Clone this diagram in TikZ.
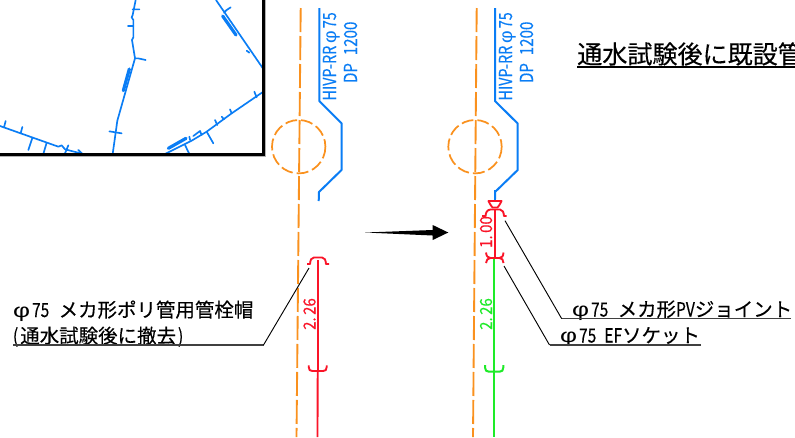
\documentclass[tikz,border=0pt]{standalone}
\usepackage{fontspec}
\usepackage{graphicx}
\setmainfont[FakeBold=0.25]{Noto Sans CJK JP}
\newfontfamily\phifont{Liberation Sans}
\definecolor{pipeblue}{RGB}{10,125,245}
\definecolor{centerorange}{RGB}{250,145,30}
\definecolor{pipered}{RGB}{250,20,40}
\definecolor{pipegreen}{RGB}{30,235,40}
\newcommand{\nar}[1]{\scalebox{0.8}[1]{#1}}
\newcommand{\phig}{\scalebox{1.35}[1]{\phifont φ}}
\newcommand{\lblfont}{\fontsize{14.6pt}{14.6pt}\selectfont}
\tikzset{
  x=0.75pt,y=-0.75pt,
  maplineS/.style={draw=pipeblue,line width=1.25pt,line cap=round,line join=round},
  mapbar/.style={draw=pipeblue,line width=2.4pt,line cap=round},
  bluepipe/.style={draw=pipeblue,line width=1.5pt,line join=round},
  centerl/.style={draw=centerorange,line width=1.4pt,dash pattern=on 18pt off 3pt},
  manhole/.style={draw=centerorange,line width=1.3pt,dash pattern=on 9pt off 3pt},
  redpipe/.style={draw=pipered,line width=1.4pt,line join=round},
  greenpipe/.style={draw=pipegreen,line width=1.5pt,line join=round},
  leader/.style={draw=black,line width=0.7pt},
  uline/.style={draw=black!75,line width=1.1pt},
  lbl/.style={anchor=base west,inner sep=0pt,outer sep=0pt,text=black,font=\lblfont},
  bluetxt/.style={anchor=base west,rotate=90,inner sep=0pt,outer sep=0pt,text=pipeblue,font=\fontsize{13.5pt}{13.5pt}\selectfont},
  dimtxt/.style={anchor=base,rotate=90,inner sep=0pt,outer sep=0pt,font=\fontsize{12.5pt}{12.5pt}\selectfont},
}
\begin{document}
\begin{tikzpicture}
\useasboundingbox (0,0) rectangle (795,437);
\clip (0,0) rectangle (795,437);
\fill[white] (0,0) rectangle (795,437);

% inset map (zoom-crop coordinates, scaled 1/3)
\begin{scope}[x=0.25pt,y=-0.25pt]
\draw[maplineS] (407,0) -- (398,45) -- (395,52) -- (400,60) -- (400,112) -- (396,120) -- (405,175) -- (352,362) -- (338,462);
\draw[maplineS] (398,28) -- (418,28) (384,78) -- (400,78) (405,175) -- (414,175) -- (437,180) (328,394) -- (365,400);
\draw[mapbar] (388,207) -- (370,272);
\draw[maplineS] (648,0) -- (790,207) (672,38) -- (680,30) -- (692,22) (740,152) -- (748,158);
\draw[mapbar] (668,48) -- (708,105);
\draw[maplineS] (790,275) -- (695,340) -- (620,395) -- (575,422) -- (495,462);
\draw[maplineS] (763,275) -- (770,292) (690,328) -- (695,340) (665,350) -- (672,358) (645,360) -- (652,375) (620,395) -- (640,430) (580,408) -- (600,393) -- (605,405) (568,410) -- (570,420) (555,435) -- (568,462);
\draw[mapbar] (505,445) -- (558,415);
\draw[maplineS] (0,378) -- (175,440) -- (185,436) -- (195,448) -- (250,462);
\draw[maplineS] (17,363) -- (12,382) (67,381) -- (62,400) (85,450) -- (97,414) (130,462) -- (140,428) (205,436) -- (195,460) (235,450) -- (245,460);
\end{scope}
\draw[black!30,line width=0.8pt] (265.5,0) -- (265.5,156.5) -- (0,156.5);
\draw[black,line width=2.1pt] (263.5,-3) -- (263.5,154.5) -- (-3,154.5);

% centre lines and manholes
\coordinate (cla) at (300.7,8);
\coordinate (clb) at (296.5,437);
\coordinate (cra) at (476.7,8);
\coordinate (crb) at (473,437);
\draw[centerl] (cla) -- (clb);
\draw[centerl] (cra) -- (crb);
\draw[manhole] (298.7,146.7) circle [radius=26.7];
\draw[manhole] (475,146.7) circle [radius=26.7];

% blue pipes
\draw[bluepipe] (319.3,8) -- (319.3,101) -- (341.7,123.5) -- (341.5,170) -- (319,192) -- (318.7,201);
\draw[bluepipe] (495,8) -- (495,101) -- (517.7,123.5) -- (517.7,170) -- (495,192) -- (495,199);
\node[bluetxt] (ta1) at (336,100.5) {\scalebox{0.8}[1]{HIVP-RR\,\phig\,75}};
\node[bluetxt] (ta2) at (357,83) {\scalebox{0.84}[1]{DP\hspace{7pt}1200}};
\node[bluetxt] (tb1) at (512,100.5) {\scalebox{0.8}[1]{HIVP-RR\,\phig\,75}};
\node[bluetxt] (tb2) at (533,83) {\scalebox{0.84}[1]{DP\hspace{7pt}1200}};

% left fitting
\draw[redpipe] (318,260) -- (318,371) (317.7,371) -- (317.5,437);
\draw[redpipe] (307,264) -- (310,264) .. controls (310.5,260) and (311,257.5) .. (314,257.5) -- (322,257.5) .. controls (325,257.5) and (325.5,260) .. (326,264) -- (329,264);
\draw[redpipe] (308.7,365.3) -- (308.7,367) .. controls (308.7,370) and (310,371) .. (312.5,371) -- (323,371) .. controls (325.5,371) and (326.7,370) .. (326.7,367) -- (326.7,365.3);
\node[dimtxt,text=pipered] (dl) at (315.5,314) {\scalebox{0.9}[1]{2.\,26}};

% right fittings
\draw[pipeblue,line width=1.3pt] (495,190) -- (495,200);
\draw[redpipe] (495,209) -- (495,258);
\draw[redpipe] (488.5,201) -- (501.5,201) .. controls (500.5,204) and (498.5,206) .. (497.5,207.5) -- (492.5,207.5) .. controls (491.5,206) and (489.5,204) .. (488.5,201) -- cycle;
\draw[redpipe] (482,216) -- (485.5,216) .. controls (486,212) and (487,210) .. (490.5,209.5) -- (500,209.5) .. controls (503,210) and (503.5,212) .. (504,216) -- (506.5,216);
\draw[redpipe] (486,252.5) .. controls (486.5,256) and (487.5,258) .. (490.5,258) -- (499.5,258) .. controls (502.5,258) and (503,256) .. (503.5,252.5);
\draw[redpipe] (486,263) .. controls (486.5,260) and (487.5,258) .. (490.5,258) (499.5,258) .. controls (502.5,258) and (503,260) .. (503.5,263);
\draw[greenpipe] (494.3,258.5) -- (494.3,437);
\draw[greenpipe] (485,365) -- (485,367.5) .. controls (485,370.5) and (486.5,371.7) .. (489,371.7) -- (499.5,371.7) .. controls (502,371.7) and (503.3,370.5) .. (503.3,367.5) -- (503.3,365);
\node[dimtxt,text=pipegreen] (dg) at (492,314) {\scalebox{0.9}[1]{2.\,26}};
\node[dimtxt,text=pipered] (dr) at (492,232) {\scalebox{0.9}[1]{1.\,00}};

% arrow
\fill[black] (365,232.5) -- (432.7,230) -- (432.7,225) -- (448.3,232.5) -- (432.7,240) -- (432.7,235.5) -- cycle;

% labels
\node[lbl] (t1) at (13,317) {\phig\hspace{1.5pt}\nar{75}\hspace{7pt}メカ形ポリ管用管栓帽};
\node[lbl] (t2) at (13,343) {\nar{(}\hspace{1.5pt}通水試験後に撤去\hspace{1.5pt}\nar{)}};
\node[lbl] (t3) at (572,316.5) {\phig\hspace{1.5pt}\nar{75}\hspace{7pt}メカ形\nar{PV}ジョイント};
\node[lbl] (t4) at (560,342.5) {\phig\hspace{1.5pt}\nar{75}\hspace{6pt}\nar{EF}ソケット};
\node[anchor=base west,inner sep=0pt,font=\fontsize{18.8pt}{19pt}\selectfont] (title) at (577,63.5) {通水試験後に既設管};

% leaders
\coordinate (l1a) at (13,345); \coordinate (l1b) at (263.5,345); \coordinate (l1c) at (309,268);
\coordinate (l2a) at (791,318.7); \coordinate (l2b) at (561.7,318.7); \coordinate (l2c) at (505,220.7);
\coordinate (l3a) at (701,345); \coordinate (l3b) at (549.5,345); \coordinate (l3c) at (504,266);
\coordinate (l4a) at (577,67); \coordinate (l4b) at (800,67);
\draw[uline] (l1a) -- (l1b);
\draw[leader] (l1b) -- (l1c);
\draw[uline] (l2a) -- (l2b);
\draw[leader] (l2b) -- (l2c);
\draw[uline] (l3a) -- (l3b);
\draw[leader] (l3b) -- (l3c);
\draw[black,line width=1pt] (l4a) -- (l4b);
\end{tikzpicture}
\end{document}
